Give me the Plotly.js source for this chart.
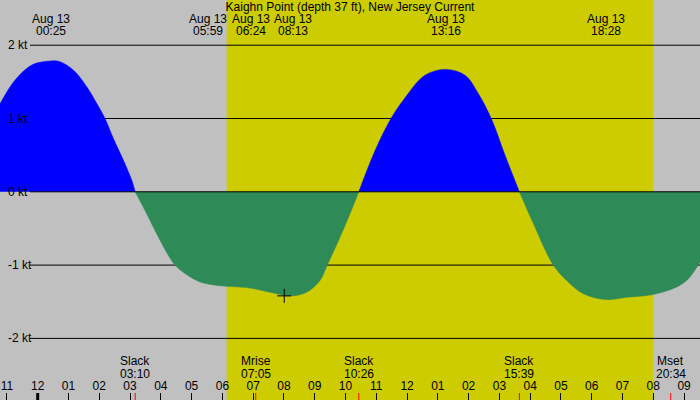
<!DOCTYPE html>
<html>
<head>
<meta charset="utf-8">
<script src="https://cdn.plot.ly/plotly-3.0.1.min.js"></script>
<style>html,body{margin:0;padding:0;background:#c0c0c0;}#chart{width:700px;height:400px;}</style>
</head>
<body>
<div id="chart"></div>
<script>
// ---- data (hours after midnight Aug 13, current speed in knots) ----
const hours  = [-1.225, -0.900, -0.575, -0.143, 0.417, 0.725, 1.157, 1.592, 1.917, 2.187, 2.456, 2.781, 3.054, 3.167,
                3.541, 3.973, 4.461, 4.841, 5.273, 5.705, 6.140, 6.572, 7.005, 7.547, 8.217, 8.740, 9.172, 9.409, 9.821, 10.146, 10.433,
                10.741, 11.066, 11.479, 11.878, 12.583, 13.267, 13.883, 14.315, 14.750, 15.182, 15.650,
                16.101, 16.751, 17.186, 17.726, 18.467, 19.136, 20.000, 20.650, 21.085, 21.518];
const speeds = [1.20, 1.43, 1.60, 1.74, 1.785, 1.775, 1.66, 1.434, 1.207, 1.00, 0.73, 0.434, 0.16, 0,
                -0.30, -0.66, -1.00, -1.13, -1.23, -1.27, -1.29, -1.30, -1.32, -1.37, -1.42, -1.37, -1.21, -1.00, -0.62, -0.30, 0,
                0.34, 0.66, 1.00, 1.25, 1.59, 1.67, 1.59, 1.34, 0.985, 0.50, 0,
                -0.43, -1.00, -1.21, -1.39, -1.47, -1.44, -1.40, -1.32, -1.21, -0.96];

const tickHours  = [-1,0,1,2,3,4,5,6,7,8,9,10,11,12,13,14,15,16,17,18,19,20,21];
const tickLabels = ['11','12','01','02','03','04','05','06','07','08','09','10','11','12','01','02','03','04','05','06','07','08','09'];

const speedLevels = [2, 1, 0, -1, -2];
const speedLabels = ['2 kt', '1 kt', '0 kt', '-1 kt', '-2 kt'];

const extremeHours  = [0.417, 5.983, 6.400, 8.217, 13.267, 18.467];
const extremeDates  = ['Aug 13','Aug 13','Aug 13','Aug 13','Aug 13','Aug 13'];
const extremeTimes  = ['00:25','05:59','06:24','08:13','13:16','18:28'];

const eventHours  = [3.167, 7.083, 10.433, 15.650, 20.567];
const eventNames  = ['Slack', 'Mrise', 'Slack', 'Slack', 'Mset'];
const eventTimes  = ['03:10', '07:05', '10:26', '15:39', '20:34'];

const sunrise = 6.14, sunset = 20.00;
const markHour = [8.01], markSpeed = [-1.42];

const titleText = 'Kaighn Point (depth 37 ft), New Jersey Current';

// ---- build ----
const FONT = 'Liberation Sans, Arial, sans-serif';
const W = 700, H = 400;

// split into flood / ebb segments at slack points
const segments = [];
let cur = {x: [], y: []};
for (let i = 0; i < hours.length; i++) {
  cur.x.push(hours[i]); cur.y.push(speeds[i]);
  if (speeds[i] === 0 && cur.x.length > 1) {
    segments.push(cur);
    cur = {x: [hours[i]], y: [speeds[i]]};
  }
}
if (cur.x.length > 1) segments.push(cur);

const traces = segments.map(s => {
  const sum = s.y.reduce((a, b) => a + b, 0);
  const col = sum > 0 ? '#0000ff' : '#2e8b57';
  return {
    x: s.x, y: s.y, type: 'scatter', mode: 'lines',
    line: {shape: 'spline', smoothing: 1, color: col, width: 0.5},
    fill: 'tozeroy', fillcolor: col, hoverinfo: 'skip', showlegend: false
  };
});
traces.push({
  x: markHour, y: markSpeed, type: 'scatter', mode: 'markers',
  marker: {symbol: 'cross-thin', size: 10, line: {color: '#000', width: 1}},
  hoverinfo: 'skip', showlegend: false
});

const shapes = [];
shapes.push({type: 'rect', xref: 'x', yref: 'paper', x0: sunrise, x1: sunset, y0: 0, y1: 1,
             fillcolor: '#cccc00', line: {width: 0}, layer: 'below'});
speedLevels.forEach(v => {
  shapes.push({type: 'line', xref: 'paper', yref: 'y', x0: 30 / W, x1: 1, y0: v, y1: v,
               line: {color: '#000', width: 1}, layer: v === 0 ? 'above' : 'below'});
});
// thick midnight tick
shapes.push({type: 'line', xref: 'x', yref: 'paper', x0: 0, x1: 0, y0: 0, y1: 7 / H,
             line: {color: '#000', width: 3}, layer: 'above'});
// red event ticks
eventHours.forEach(h => {
  shapes.push({type: 'line', xref: 'x', yref: 'paper', x0: h, x1: h, y0: 0, y1: 7 / H,
               line: {color: '#ff0000', width: 1}, layer: 'above'});
});

const annotations = [];
const txt = (s, x, xref, y, xanchor, extra) => Object.assign({
  text: s, x: x, xref: xref, y: y, yref: 'paper', xanchor: xanchor, yanchor: 'middle',
  showarrow: false, font: {family: FONT, size: 12, color: '#000'}
}, extra || {});

speedLevels.forEach((v, i) => {
  annotations.push(Object.assign(txt(speedLabels[i], 6 / W, 'paper', 0, 'left'), {y: v, yref: 'y'}));
});
const extShift = [0, -14, 16, 2, 0, 0];
extremeHours.forEach((h, i) => {
  annotations.push(txt(extremeDates[i], h, 'x', 1 - 19 / H, 'center', {xshift: extShift[i]}));
  annotations.push(txt(extremeTimes[i], h, 'x', 1 - 31 / H, 'center', {xshift: extShift[i]}));
});
eventHours.forEach((h, i) => {
  annotations.push(txt(eventNames[i], h, 'x', 1 - 361 / H, 'center'));
  annotations.push(txt(eventTimes[i], h, 'x', 1 - 373.5 / H, 'center'));
});

const yTop = 191.8 / 73.3, yBot = (191.8 - H) / 73.3;

const layout = {
  width: W, height: H,
  margin: {l: 0, r: 0, t: 0, b: 0, pad: 0},
  paper_bgcolor: '#c0c0c0', plot_bgcolor: '#c0c0c0',
  font: {family: FONT, size: 12, color: '#000'},
  title: {text: titleText, font: {family: FONT, size: 12, color: '#000'},
          x: 0.5, xanchor: 'center', xref: 'paper', y: 1 - 7 / H, yref: 'container', yanchor: 'middle'},
  xaxis: {range: [-1.225, 21.518], tickvals: tickHours, ticktext: tickLabels,
          ticks: 'inside', ticklen: 7, tickwidth: 1, tickcolor: '#000',
          ticklabelposition: 'inside', tickfont: {family: FONT, size: 12, color: '#000'},
          showgrid: false, zeroline: false, showline: false, fixedrange: true},
  yaxis: {range: [yBot, yTop], showgrid: false, zeroline: false, showline: false,
          showticklabels: false, ticks: '', fixedrange: true},
  shapes: shapes, annotations: annotations, showlegend: false
};

Plotly.newPlot('chart', traces, layout, {staticPlot: true, displayModeBar: false});
</script>
</body>
</html>
